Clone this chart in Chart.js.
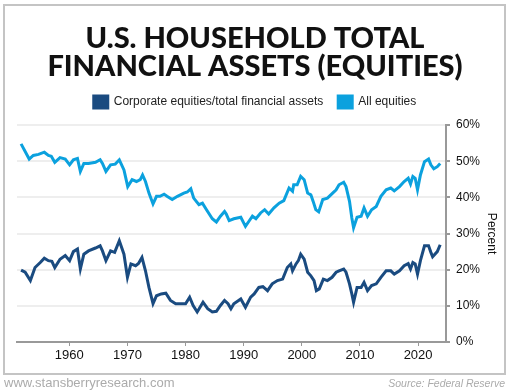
<!DOCTYPE html>
<html>
<head>
<meta charset="utf-8">
<script src="https://cdn.jsdelivr.net/npm/chart.js@4.4.1/dist/chart.umd.min.js"></script>
<style>
  html, body { margin: 0; padding: 0; background: #fff; }
  canvas { display: block; }
</style>
</head>
<body>
<canvas id="chart" width="510" height="392"></canvas>
<script>
// ================= DATA =================
const titleLines = ['U.S. HOUSEHOLD TOTAL', 'FINANCIAL ASSETS (EQUITIES)'];
const seriesNames = ['Corporate equities/total financial assets', 'All equities'];
const xTicks = [1960, 1970, 1980, 1990, 2000, 2010, 2020];
const yTicks = [0, 10, 20, 30, 40, 50, 60];

const corpYears = [1951.7, 1952.4, 1953.3, 1954.1, 1955.0, 1955.7, 1956.4, 1957.0, 1957.5, 1958.4, 1959.3,
  1960.05, 1960.7, 1961.4, 1961.9, 1962.5, 1963.3, 1964.5, 1965.3, 1965.7, 1966.3, 1967.1, 1967.8, 1968.6, 1969.4,
  1970.0, 1970.6, 1971.4, 1971.9, 1972.5, 1973.1, 1973.7, 1974.4, 1975.0, 1975.8, 1976.6, 1977.4, 1978.3, 1979.1,
  1980.0, 1980.7, 1981.3, 1982.0, 1983.0, 1983.8, 1984.6, 1985.3, 1986.0, 1986.7, 1987.3, 1987.8, 1988.3, 1989.5,
  1990.3, 1991.2, 1991.8, 1992.6, 1993.3, 1994.1, 1994.9, 1995.8, 1996.7, 1997.5, 1998.1, 1998.4, 1999.0, 1999.4,
  1999.8, 2000.4, 2001.0, 2001.55, 2002.1, 2002.5, 2003.0, 2003.7, 2004.4, 2005.2, 2005.9, 2006.4, 2007.2, 2007.6,
  2008.2, 2008.6, 2008.9, 2009.5, 2010.2, 2010.7, 2011.3, 2012.0, 2012.8, 2013.6, 2014.5, 2015.3, 2015.9, 2016.8,
  2017.6, 2018.3, 2018.7, 2019.1, 2019.5, 2019.9, 2020.4, 2021.1, 2021.8, 2022.2, 2022.5, 2023.3, 2023.8];
const corpValues = [19.9, 19.3, 17.0, 20.6, 22.0, 23.2, 22.5, 22.3, 20.6, 22.9, 23.9,
  22.5, 25.0, 25.7, 20.2, 24.3, 25.2, 26.0, 26.6, 25.2, 22.5, 25.2, 24.8, 28.0, 24.3,
  17.9, 21.6, 21.1, 21.7, 23.4, 19.7, 15.1, 10.6, 12.8, 13.3, 13.5, 11.5, 10.6, 10.6,
  10.6, 12.4, 10.1, 8.3, 11.0, 9.2, 8.3, 8.5, 10.1, 11.5, 10.6, 9.2, 10.6, 11.9,
  9.6, 12.4, 13.3, 15.1, 15.3, 14.2, 16.1, 17.0, 17.4, 20.6, 21.6, 19.7, 21.6, 22.5,
  24.3, 22.9, 19.3, 18.3, 17.0, 14.2, 14.7, 17.4, 17.0, 17.9, 19.3, 19.7, 20.2, 19.3,
  16.1, 13.3, 11.0, 15.1, 15.1, 16.5, 14.2, 15.6, 16.1, 17.9, 19.7, 19.7, 18.8, 19.7,
  21.1, 21.7, 20.2, 22.0, 21.6, 18.8, 22.5, 26.6, 26.6, 24.8, 23.6, 25.0, 26.9];

const allYears = [1951.7, 1953.1, 1953.8, 1954.7, 1955.7, 1956.4, 1956.9, 1957.5, 1958.4, 1959.3,
  1960.05, 1960.7, 1961.4, 1961.9, 1962.5, 1963.3, 1964.5, 1965.3, 1965.7, 1966.3, 1967.1, 1967.9, 1968.6, 1969.4,
  1970.05, 1970.8, 1971.55, 1972.2, 1972.6, 1973.1, 1973.7, 1974.4, 1975.0, 1975.6, 1976.3, 1976.8, 1977.7, 1978.6,
  1979.7, 1980.3, 1980.9, 1981.4, 1982.3, 1982.9, 1983.6, 1984.6, 1985.3, 1986.0, 1986.7, 1987.0, 1987.5, 1988.3,
  1989.5, 1990.3, 1990.9, 1991.5, 1992.1, 1992.9, 1993.6, 1994.3, 1995.2, 1996.1, 1996.9, 1997.8, 1998.4, 1998.6,
  1999.2, 1999.8, 2000.4, 2001.0, 2001.55, 2001.95, 2002.4, 2002.9, 2003.6, 2004.4, 2005.3, 2005.9, 2006.4, 2007.2,
  2007.6, 2008.2, 2008.6, 2008.9, 2009.5, 2010.2, 2010.7, 2011.3, 2012.0, 2012.8, 2013.6, 2014.5, 2015.3, 2015.9,
  2016.8, 2017.6, 2018.3, 2018.7, 2019.1, 2019.5, 2019.9, 2020.4, 2021.1, 2021.8, 2022.2, 2022.7, 2023.3, 2023.8];
const allValues = [54.8, 50.6, 51.6, 51.9, 52.5, 51.6, 51.4, 49.7, 51.0, 50.6,
  49.0, 50.4, 50.8, 47.2, 49.4, 49.4, 49.7, 50.4, 49.4, 47.2, 49.0, 49.2, 50.4, 47.6,
  43.0, 44.9, 44.4, 44.9, 46.2, 44.4, 41.2, 38.2, 40.3, 40.3, 40.9, 40.3, 39.4, 40.3,
  41.2, 41.5, 42.4, 39.8, 38.0, 38.4, 36.6, 34.1, 33.2, 34.8, 36.1, 35.4, 33.6, 34.1,
  34.5, 32.0, 33.4, 34.8, 34.1, 35.7, 36.6, 35.4, 37.1, 38.4, 39.1, 42.6, 41.7, 43.5,
  43.5, 45.8, 44.9, 41.2, 40.7, 38.9, 36.6, 36.0, 39.4, 39.8, 41.2, 42.1, 43.5, 44.2,
  43.0, 38.9, 34.3, 31.6, 34.5, 34.8, 37.1, 34.8, 36.6, 37.5, 40.3, 42.1, 42.6, 41.8,
  43.0, 44.4, 45.3, 43.7, 45.8, 45.3, 42.1, 46.2, 49.9, 50.6, 49.0, 47.9, 48.5, 49.4];

const toPoints = (xs, ys) => xs.map((x, i) => ({ x: x, y: ys[i] }));

// ================= FRAME + FOOTER PLUGIN =================
const frameFooter = {
    id: 'frameFooter',
    beforeDraw(chart) {
        const ctx = chart.ctx;
        ctx.save();
        ctx.fillStyle = '#fff';
        ctx.fillRect(0, 0, chart.width, chart.height);
        ctx.strokeStyle = '#c4c4c4';
        ctx.lineWidth = 2;
        ctx.strokeRect(4, 5, 501, 369);
        ctx.restore();
    },
    afterDraw(chart) {
        const ctx = chart.ctx;
        ctx.save();
        ctx.fillStyle = '#ababab';
        ctx.textBaseline = 'middle';
        ctx.font = '13px "Liberation Sans", Arial, sans-serif';
        ctx.textAlign = 'left';
        ctx.fillText('www.stansberryresearch.com', 4, 383);
        ctx.font = 'italic 10.5px "Liberation Sans", Arial, sans-serif';
        ctx.textAlign = 'right';
        ctx.fillText('Source: Federal Reserve', 505, 384);
        ctx.restore();
    }
};

// ================= CHART =================
new Chart(document.getElementById('chart'), {
    type: 'line',
    data: {
        datasets: [{
            label: seriesNames[0],
            data: toPoints(corpYears, corpValues),
            xAxisID: 'x',
            yAxisID: 'y',
            borderColor: '#1a4b80',
            backgroundColor: '#1a4b80',
            borderWidth: 3,
            pointRadius: 0,
            tension: 0
        }, {
            label: seriesNames[1],
            data: toPoints(allYears, allValues),
            xAxisID: 'x',
            yAxisID: 'y',
            borderColor: '#0ba1de',
            backgroundColor: '#0ba1de',
            borderWidth: 3,
            pointRadius: 0,
            tension: 0
        }]
    },
    options: {
        responsive: false,
        animation: false,
        layout: {
            padding: 0
        },
        plugins: {
            title: {
                display: true,
                text: titleLines,
                color: '#111',
                font: { family: 'Lato', size: 29, weight: '900', lineHeight: 0.95 },
                padding: { top: 25, bottom: 1 }
            },
            legend: {
                display: true,
                labels: {
                    boxWidth: 14,
                    boxHeight: 12,
                    padding: 15,
                    color: '#222',
                    font: { family: '"Liberation Sans", Arial, sans-serif', size: 12 }
                }
            },
            tooltip: { enabled: false }
        },
        scales: {
            x: {
                type: 'linear',
                min: 1951,
                max: 2024.8,
                afterFit: s => { s.height = 50; },
                afterBuildTicks: s => { s.ticks = xTicks.map(v => ({ value: v })); },
                grid: {
                    drawOnChartArea: false,
                    color: '#999',
                    tickLength: 4
                },
                border: { color: '#999', width: 2 },
                ticks: {
                    autoSkip: false,
                    maxRotation: 0,
                    color: '#111',
                    padding: 2,
                    font: { family: '"Liberation Sans", Arial, sans-serif', size: 13 },
                    callback: v => String(v)
                }
            },
            y: {
                position: 'right',
                min: 0,
                max: 60,
                afterFit: s => { s.width = 64; },
                afterBuildTicks: s => { s.ticks = yTicks.map(v => ({ value: v })); },
                grid: {
                    color: '#eeeeee',
                    tickColor: '#999',
                    tickLength: 4,
                    lineWidth: 2
                },
                border: { color: '#999', width: 2 },
                ticks: {
                    color: '#111',
                    padding: 6,
                    font: { family: '"Liberation Sans", Arial, sans-serif', size: 12 },
                    callback: v => v + '%'
                },
                title: {
                    display: true,
                    text: 'Percent',
                    color: '#111',
                    padding: { top: 11, bottom: 0 },
                    font: { family: '"Liberation Sans", Arial, sans-serif', size: 12 }
                }
            },
            // empty spacer scales that fix the gaps around the plot area
            xTop: {
                type: 'linear',
                position: 'top',
                display: true,
                afterFit: s => { s.height = 7; },
                grid: { display: false },
                border: { display: false },
                ticks: { display: false }
            },
            yLeft: {
                type: 'linear',
                position: 'left',
                display: true,
                afterFit: s => { s.width = 17; },
                grid: { display: false },
                border: { display: false },
                ticks: { display: false }
            }
        }
    },
    plugins: [frameFooter]
});
</script>
</body>
</html>
